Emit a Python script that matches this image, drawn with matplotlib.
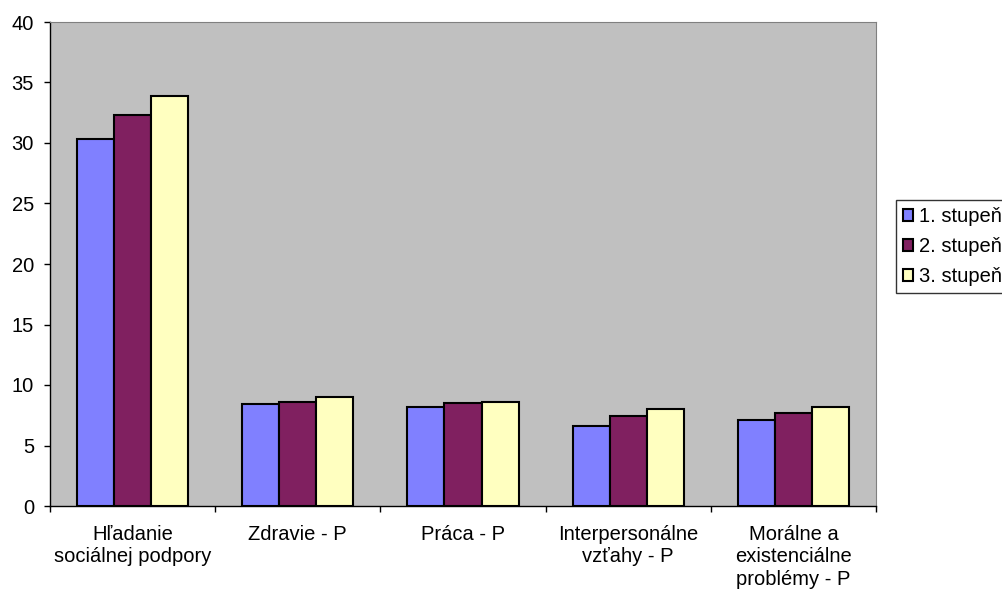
import matplotlib.pyplot as plt
import numpy as np

plt.rcParams['font.family'] = ['Liberation Sans', 'DejaVu Sans']

categories = ['Hľadanie\nsociálnej podpory', 'Zdravie - P', 'Práca - P',
              'Interpersonálne\nvzťahy - P', 'Morálne a\nexistenciálne\nproblémy - P']
series_names = ['1. stupeň', '2. stupeň', '3. stupeň']
stupen1 = [30.3, 8.4, 8.2, 6.6, 7.1]
stupen2 = [32.3, 8.6, 8.5, 7.4, 7.7]
stupen3 = [33.9, 9.0, 8.6, 8.0, 8.2]
colors = ['#8080FF', '#802060', '#FFFFC0']

fs = 14.5

fig = plt.figure(figsize=(10.02, 5.93), dpi=100)
ax = fig.add_axes([50 / 1002, 1 - 506 / 593, 826 / 1002, 484 / 593])
ax.set_facecolor('#C0C0C0')

x = np.arange(len(categories))
w = 0.224
for i, (vals, name) in enumerate(zip([stupen1, stupen2, stupen3], series_names)):
    ax.bar(x + (i - 1) * w, vals, width=w, color=colors[i], edgecolor='black',
           linewidth=1.5, label=name, zorder=3)

ax.set_xlim(-0.5, len(categories) - 0.5)
ax.set_ylim(0, 40)
ax.set_yticks(range(0, 41, 5))
ax.set_xticks(x)
ax.set_xticklabels(categories, fontsize=fs, linespacing=1.25)
ax.set_xticks(np.arange(-0.5, len(categories)), minor=True)
ax.tick_params(axis='x', which='major', length=0, pad=13.5)
ax.tick_params(axis='x', which='minor', length=4.5, width=1, direction='out')
ax.tick_params(axis='y', length=4.5, width=1, direction='out', labelsize=fs, pad=7)

for s in ['top', 'right']:
    ax.spines[s].set_color('#808080')
for s in ['left', 'bottom']:
    ax.spines[s].set_color('black')
    ax.spines[s].set_linewidth(1)

leg = fig.legend(loc='center left', bbox_to_anchor=(896 / 1002, 1 - 246.5 / 593),
                 fontsize=fs, frameon=True, fancybox=False, edgecolor='black',
                 handlelength=0.5, handleheight=0.5, handletextpad=0.3,
                 borderpad=0.35, labelspacing=0.55, borderaxespad=0)
leg.get_frame().set_linewidth(1)

fig.savefig('out.png', dpi=100)
